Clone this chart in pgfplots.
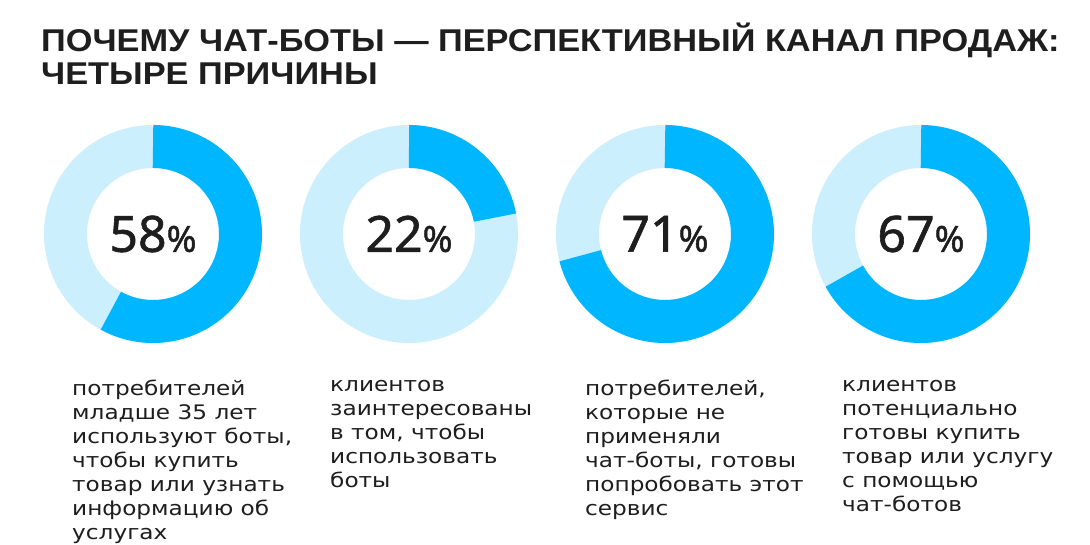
\documentclass[border=0pt]{standalone}
\usepackage{fontspec}
\setmainfont{DejaVu Sans}[FakeStretch=1.16]
\newfontfamily\titlefont{Liberation Sans}[FakeStretch=1.09]
\newfontfamily\numfont{Noto Sans}[FakeBold=1.2]
\usepackage{pgfplots}
\pgfplotsset{compat=1.18}
\definecolor{dark}{HTML}{00B6FF}
\definecolor{light}{HTML}{CCEFFD}
\definecolor{ink}{HTML}{1E1E1E}
\pgfplotsset{
  donut/.style={
    scale only axis, width=230pt, height=230pt,
    xmin=-115, xmax=115, ymin=-115, ymax=115,
    hide axis, clip=false, anchor=center
  }
}
\newcommand{\donut}[3]{%
  \begin{axis}[donut, at={(#1pt,311pt)}]
    \addplot[light, line width=43pt, domain=0:100, samples=181, smooth]
      ({87.5*sin(3.6*x)},{87.5*cos(3.6*x)});
    \addplot[dark, line width=43pt, domain=0:#2, samples=120, smooth]
      ({87.5*sin(3.6*x)},{87.5*cos(3.6*x)});
    \node[ink, inner sep=0, anchor=center] at (axis cs:0,0)
      {\numfont\fontsize{50}{50}\selectfont #2\fontsize{36}{36}\selectfont\%};
  \end{axis}}
\begin{document}
\begin{tikzpicture}
\path[use as bounding box, fill=white] (0,0) rectangle (1090pt,545pt);
\node[anchor=base west, inner sep=0, ink] at (41pt,493pt)
  {\titlefont\bfseries\fontsize{31.5}{31.5}\selectfont ПОЧЕМУ ЧАТ-БОТЫ — ПЕРСПЕКТИВНЫЙ КАНАЛ ПРОДАЖ:};
\node[anchor=base west, inner sep=0, ink] at (41pt,460pt)
  {\titlefont\bfseries\fontsize{31.5}{31.5}\selectfont ЧЕТЫРЕ ПРИЧИНЫ};
\donut{153}{58}{}
\donut{409}{22}{}
\donut{665}{71}{}
\donut{921}{67}{}
\tikzset{body/.style={anchor=north west, inner sep=0, align=left, ink,
  font=\fontsize{20}{24}\selectfont}}
\node[body] at (72pt,165pt) {потребителей\\младше 35 лет\\используют боты,\\чтобы купить\\товар или узнать\\информацию об\\услугах};
\node[body] at (330pt,165pt) {клиентов\\заинтересованы\\в том, чтобы\\использовать\\боты};
\node[body] at (585pt,165pt) {потребителей,\\которые не\\применяли\\чат-боты, готовы\\попробовать этот\\сервис};
\node[body] at (842pt,165pt) {клиентов\\потенциально\\готовы купить\\товар или услугу\\с помощью\\чат-ботов};
\end{tikzpicture}
\end{document}
